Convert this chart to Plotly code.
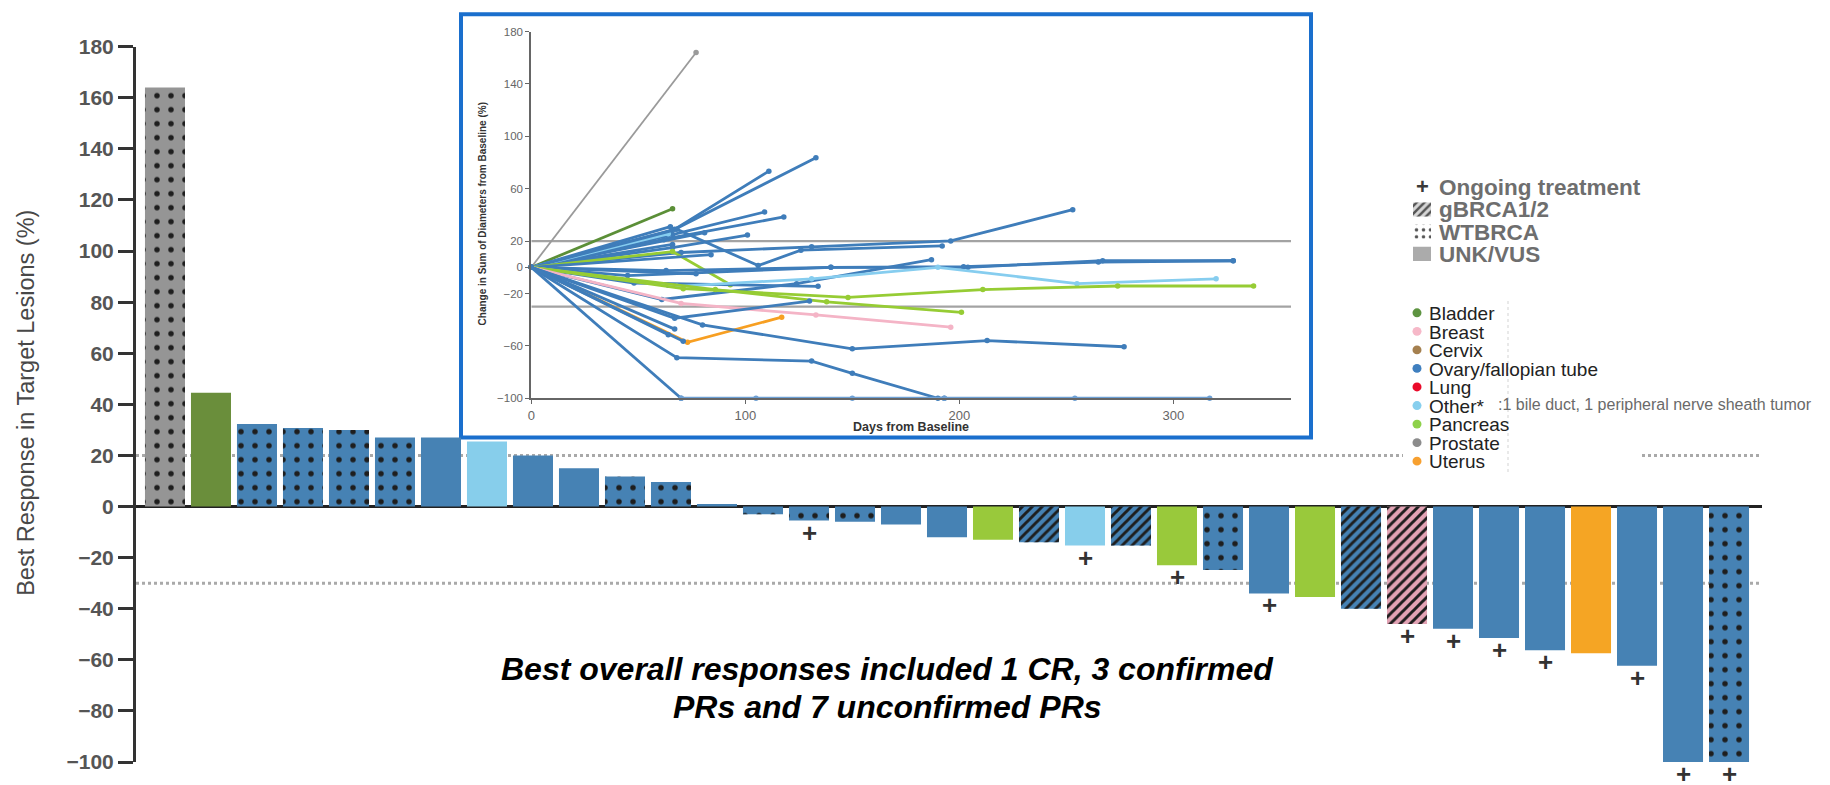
import plotly.graph_objects as go

# ---------------- waterfall data ----------------
bar_values = [164, 44.5, 32.3, 30.7, 30, 27, 27, 25.5, 20, 15, 11.8, 9.6, 1,
              -3, -5.5, -6, -7, -12, -13, -14, -15.3, -15.3, -23, -24.8, -34,
              -35.4, -40, -46, -47.8, -51.5, -56.3, -57.4, -62.3, -100, -100]
bar_tumor = ["Prostate", "Bladder", "Ovary", "Ovary", "Ovary", "Ovary", "Ovary",
             "Other", "Ovary", "Ovary", "Ovary", "Ovary", "Ovary", "Ovary",
             "Ovary", "Ovary", "Ovary", "Ovary", "Pancreas", "Ovary", "Other",
             "Ovary", "Pancreas", "Ovary", "Ovary", "Pancreas", "Ovary", "Breast",
             "Ovary", "Ovary", "Ovary", "Uterus", "Ovary", "Ovary", "Ovary"]
bar_brca = ["WT", "UNK", "WT", "WT", "WT", "WT", "UNK", "UNK", "UNK", "UNK",
            "WT", "WT", "UNK", "WT", "WT", "WT", "UNK", "UNK", "UNK", "g",
            "UNK", "g", "UNK", "WT", "UNK", "UNK", "g", "g", "UNK", "UNK",
            "UNK", "UNK", "UNK", "UNK", "WT"]
ongoing = [14, 20, 22, 24, 27, 28, 29, 30, 32, 33, 34]

# ---------------- spider plot data (days, % change) ----------------
spider = [
    ("Prostate", [0, 77], [0, 164]),
    ("Bladder", [0, 66], [0, 44.7]),
    ("Ovary", [0, 67, 133], [0, 29, 83.6]),
    ("Ovary", [0, 65, 111], [0, 27, 73.4]),
    ("Ovary", [0, 66, 109], [0, 25, 42.2]),
    ("Ovary", [0, 64, 118], [0, 22, 38.5]),
    ("Ovary", [0, 81], [0, 26.4]),
    ("Ovary", [0, 65], [0, 31]),
    ("Ovary", [0, 62], [0, 21]),
    ("Ovary", [0, 66], [0, 17.5]),
    ("Ovary", [0, 66, 101], [0, 15.1, 24.6]),
    ("Other", [0, 64], [0, 25.6]),
    ("Ovary", [0, 68, 106, 126, 192], [0, 29, 1.3, 13.1, 16.3]),
    ("Ovary", [0, 70, 131, 196, 253], [0, 11.3, 15.6, 20.1, 44]),
    ("Pancreas", [0, 66, 93], [0, 12, -13.3]),
    ("Ovary", [0, 84], [0, 9.6]),
    ("Ovary", [0, 63, 140, 204, 267, 328], [0, -2.5, 0, 0, 5, 5]),
    ("Ovary", [0, 45, 140, 202, 265, 328], [0, -6.3, 0, 0.5, 4, 5]),
    ("Ovary", [0, 61, 124, 187], [0, -24.6, -12.5, 5.8]),
    ("Ovary", [0, 48, 134], [0, -12, -14.5]),
    ("Ovary", [0, 77], [0, -5]),
    ("Ovary", [0, 64], [0, -13.8]),
    ("Other", [0, 68, 131, 190, 255, 320], [0, -14.5, -8.8, 0, -12.5, -8.8]),
    ("Pancreas", [0, 71, 148, 211, 274, 337.5], [0, -16.3, -23, -17, -14.3, -14.3]),
    ("Pancreas", [0, 86, 138, 201], [0, -17, -26.4, -34.4]),
    ("Breast", [0, 70, 133, 196], [0, -27.6, -36.4, -45.7]),
    ("Uterus", [0, 73, 117], [0, -57.3, -38.1]),
    ("Ovary", [0, 80, 150, 213, 277], [0, -44, -62.3, -56, -60.7]),
    ("Ovary", [0, 68, 131, 150, 190, 193], [0, -69, -71.6, -81, -100, -100]),
    ("Ovary", [0, 67, 130], [0, -38.9, -25.8]),
    ("Ovary", [0, 67], [0, -47.2]),
    ("Ovary", [0, 64], [0, -51.5]),
    ("Ovary", [0, 71], [0, -56.5]),
    ("Ovary", [0, 70], [0, -100]),
    ("OvaryCR", [70, 105, 150, 193, 254, 317], [-100, -100, -100, -100, -100, -100]),
]

legend_tumors = ["Bladder", "Breast", "Cervix", "Ovary/fallopian tube", "Lung",
                 "Other*", "Pancreas", "Prostate", "Uterus"]
legend_keys = ["Bladder", "Breast", "Cervix", "Ovary", "Lung", "Other",
               "Pancreas", "Prostate", "Uterus"]
status_labels = ["Ongoing treatment", "gBRCA1/2", "WTBRCA", "UNK/VUS"]
status_icons = ["UNK", "WT", "g"]          # swatch rows, bottom-to-top
y_ticks = list(range(-100, 181, 20))
inset_yticks = [180, 140, 100, 60, 20, 0, -20, -60, -100]
inset_xticks = [0, 100, 200, 300]

bar_colors = {"Bladder": "#6a8e3b", "Breast": "#e3a3b5", "Cervix": "#a5804f",
              "Ovary": "#4682b4", "Lung": "#e5102b", "Other": "#87ceeb",
              "Pancreas": "#99c93b", "Prostate": "#959595", "Uterus": "#f5a524"}
dot_colors = {"Bladder": "#5e9441", "Breast": "#f6b8c8", "Cervix": "#a5804f",
              "Ovary": "#3f7fbf", "Lung": "#ea0a2a", "Other": "#87cfee",
              "Pancreas": "#8ed14a", "Prostate": "#8c8c8c", "Uterus": "#f7a030"}
line_colors = {"Bladder": "#5b8f37", "Breast": "#f4b4c6", "Ovary": "#3f7dba",
               "Other": "#86cdef", "Pancreas": "#96cc34", "Prostate": "#9a9a9a",
               "Uterus": "#f79f22", "OvaryCR": "#6ea0d4"}
swatch_colors = {"UNK": "#ababab", "WT": "#ffffff", "g": "#d6d6d6"}

# fill patterns for germline status
pat_shape = {"WT": ".", "g": "/"}
pat_size = {"WT": 14, "g": 7}
pat_sol = {"WT": 0.12, "g": 0.42}

# ---------------- page geometry helpers ----------------
L, R, T, B = 136, 68, 20, 17
W = 1830 - L - R
H = 785 - T - B


def PX(x):
    return (x - L) / W


def PY(y):
    return (785 - B - y) / H


main_top = PY(43)
y_lo, y_hi = -100, 180


def yval_paper(v):
    return (v - y_lo) / (y_hi - y_lo) * main_top


fig = go.Figure()

# waterfall bars: solid tumour-colour fill
n = len(bar_values)
idx = list(range(n))
fig.add_trace(go.Bar(
    x=idx, y=bar_values, width=0.87,
    marker=dict(color=[bar_colors[t] for t in bar_tumor], line=dict(width=0)),
    showlegend=False, hoverinfo="x+y"))

# germline-status patterns laid over the same bars
for status in ("WT", "g"):
    sel = [i for i in idx if bar_brca[i] == status]
    fig.add_trace(go.Bar(
        x=sel, y=[bar_values[i] for i in sel], width=0.87,
        marker=dict(color="rgba(0,0,0,0)", line=dict(width=0),
                    pattern=dict(shape=pat_shape[status], size=pat_size[status],
                                 solidity=pat_sol[status], fillmode="overlay",
                                 fgcolor="#1e1e1e", bgcolor="rgba(0,0,0,0)",
                                 fgopacity=1)),
        showlegend=False, hoverinfo="skip"))

# spider plot traces
for tumor, days, vals in spider:
    w = 1.8 if tumor == "Prostate" else (3 if tumor == "OvaryCR" else 2.8)
    fig.add_trace(go.Scatter(
        x=days, y=vals, mode="lines+markers", xaxis="x2", yaxis="y2",
        line=dict(color=line_colors[tumor], width=w),
        marker=dict(color=line_colors[tumor], size=5.5),
        cliponaxis=False, showlegend=False, hoverinfo="x+y"))

# status legend swatches (same fill patterns as the bars)
rows = list(range(len(status_icons)))
fig.add_trace(go.Bar(
    x=[1] * len(rows), y=rows, orientation="h", width=0.64,
    xaxis="x3", yaxis="y3",
    marker=dict(color=[swatch_colors[s] for s in status_icons], line=dict(width=0)),
    showlegend=False, hoverinfo="skip"))
for r, status in enumerate(status_icons):
    if status in pat_shape:
        fig.add_trace(go.Bar(
            x=[1], y=[r], orientation="h", width=0.64, xaxis="x3", yaxis="y3",
            marker=dict(color="rgba(0,0,0,0)", line=dict(width=0),
                        pattern=dict(shape=pat_shape[status],
                                     size=7 if status == "WT" else 5.5,
                                     solidity=0.2 if status == "WT" else 0.45,
                                     fillmode="overlay", fgcolor="#555",
                                     bgcolor="rgba(0,0,0,0)", fgopacity=1)),
            showlegend=False, hoverinfo="skip"))

shapes = []
# inset frame
shapes.append(dict(type="rect", xref="paper", yref="paper",
                   x0=PX(461), x1=PX(1311), y0=PY(439), y1=PY(10),
                   line=dict(color="#1a6fcd", width=4), fillcolor="white",
                   layer="below"))
# +20 / -30 reference lines
for v in (20, -30):
    shapes.append(dict(type="line", xref="paper", yref="paper", x0=0, x1=1,
                       y0=yval_paper(v), y1=yval_paper(v),
                       line=dict(color="#a9a9a9", width=3, dash="dot"),
                       layer="below"))
# white legend panel and its faint border
shapes.append(dict(type="rect", xref="paper", yref="paper",
                   x0=PX(1403), x1=PX(1642), y0=PY(476), y1=PY(296),
                   line=dict(width=0), fillcolor="white", layer="below"))
shapes.append(dict(type="line", xref="paper", yref="paper",
                   x0=PX(1508), x1=PX(1508), y0=PY(474), y1=PY(298),
                   line=dict(color="#e2e2e2", width=1.5, dash="dot"),
                   layer="below"))
# inset reference lines
for v in (20, -30):
    shapes.append(dict(type="line", xref="x2", yref="y2", x0=0, x1=355,
                       y0=v, y1=v, line=dict(color="#a3a3a3", width=2.2),
                       layer="below"))

# tumour legend dots
for k, key in enumerate(legend_keys):
    yy = 312.7 + k * 18.8
    shapes.append(dict(type="circle", xref="paper", yref="paper",
                       x0=PX(1412.5), x1=PX(1421.5), y0=PY(yy + 4.5),
                       y1=PY(yy - 4.5), fillcolor=dot_colors[key],
                       line=dict(width=0)))

ann = []
# ongoing treatment markers below the bars
for i in ongoing:
    ann.append(dict(text="<b>+</b>", xref="x", yref="y", x=i, y=bar_values[i],
                    yshift=-12, showarrow=False,
                    font=dict(family="Arial", size=26, color="#333"),
                    xanchor="center", yanchor="middle"))
ann.append(dict(text="Best Response in Target Lesions (%)", xref="paper",
                yref="paper", x=PX(26), y=PY(404), textangle=-90,
                showarrow=False,
                font=dict(family="Arial", size=23.5, color="#484848"),
                xanchor="center", yanchor="middle"))
ann.append(dict(text="<b><i>Best overall responses included 1 CR, 3 confirmed</i></b>",
                xref="paper", yref="paper", x=PX(887), y=PY(674),
                showarrow=False, font=dict(family="Arial", size=32, color="#000"),
                xanchor="center", yanchor="middle"))
ann.append(dict(text="<b><i>PRs and 7 unconfirmed PRs</i></b>",
                xref="paper", yref="paper", x=PX(887), y=PY(712),
                showarrow=False, font=dict(family="Arial", size=32, color="#000"),
                xanchor="center", yanchor="middle"))
# inset titles
ann.append(dict(text="<b>Change in Sum of Diameters from Baseline (%)</b>",
                xref="paper", yref="paper", x=PX(482), y=PY(213),
                textangle=-90, showarrow=False,
                font=dict(family="Arial", size=10, color="#333"),
                xanchor="center", yanchor="middle"))
ann.append(dict(text="<b>Days from Baseline</b>", xref="paper", yref="paper",
                x=PX(911), y=PY(428), showarrow=False,
                font=dict(family="Arial", size=12.5, color="#333"),
                xanchor="center", yanchor="middle"))
# status legend
ann.append(dict(text="<b>+</b>", xref="paper", yref="paper", x=PX(1422),
                y=PY(185), showarrow=False,
                font=dict(family="Arial", size=22, color="#3a3a3a"),
                xanchor="center", yanchor="middle"))
for k, lab in enumerate(status_labels):
    ann.append(dict(text="<b>" + lab + "</b>", xref="paper", yref="paper",
                    x=PX(1437), y=PY(186 + k * 22.5), showarrow=False,
                    font=dict(family="Arial", size=22.5, color="#6e6e6e"),
                    xanchor="left", yanchor="middle"))
# tumour legend
for k, lab in enumerate(legend_tumors):
    ann.append(dict(text=lab, xref="paper", yref="paper", x=PX(1427),
                    y=PY(313.5 + k * 18.8), showarrow=False,
                    font=dict(family="Arial", size=19, color="#222"),
                    xanchor="left", yanchor="middle"))
ann.append(dict(text=":1 bile duct, 1 peripheral nerve sheath tumor",
                xref="paper", yref="paper", x=PX(1496), y=PY(405.5),
                showarrow=False,
                font=dict(family="Arial", size=16, color="#6a6a6a"),
                xanchor="left", yanchor="middle"))

fig.update_layout(
    width=1830, height=785,
    margin=dict(l=L, r=R, t=T, b=B),
    paper_bgcolor="white", plot_bgcolor="rgba(0,0,0,0)",
    barmode="overlay", bargap=0.13, showlegend=False,
    shapes=shapes, annotations=ann,
    xaxis=dict(domain=[0, 1], range=[-0.63, 34.717], visible=False),
    yaxis=dict(domain=[0, main_top], range=[y_lo, y_hi], tickvals=y_ticks,
               showline=True, linecolor="#333", linewidth=3,
               ticks="outside", ticklen=15, tickwidth=2.5, tickcolor="#333",
               showgrid=False, zeroline=True, zerolinecolor="#222",
               zerolinewidth=3,
               tickfont=dict(family="Arial", size=21, color="#555",
                             weight="bold")),
    xaxis2=dict(domain=[PX(531.3), PX(1291)], anchor="y2", range=[0, 355],
                tickvals=inset_xticks, showline=True, linecolor="#666",
                linewidth=1.5, ticks="outside", ticklen=4, tickcolor="#666",
                showgrid=False, zeroline=False,
                tickfont=dict(family="Arial", size=13, color="#666")),
    yaxis2=dict(domain=[PY(399.3), PY(27.7)], anchor="x2", range=[-100, 180],
                tickvals=inset_yticks, showline=True, linecolor="#666",
                linewidth=2, ticks="outside", ticklen=4, tickcolor="#666",
                showgrid=False, zeroline=False,
                tickfont=dict(family="Arial", size=11.5, color="#666")),
    xaxis3=dict(domain=[PX(1413), PX(1431)], anchor="y3", range=[0, 1],
                visible=False, fixedrange=True),
    yaxis3=dict(domain=[PY(264.25), PY(196.75)], anchor="x3",
                range=[-0.5, 2.5], visible=False, fixedrange=True),
)

fig.write_html("out.html")
